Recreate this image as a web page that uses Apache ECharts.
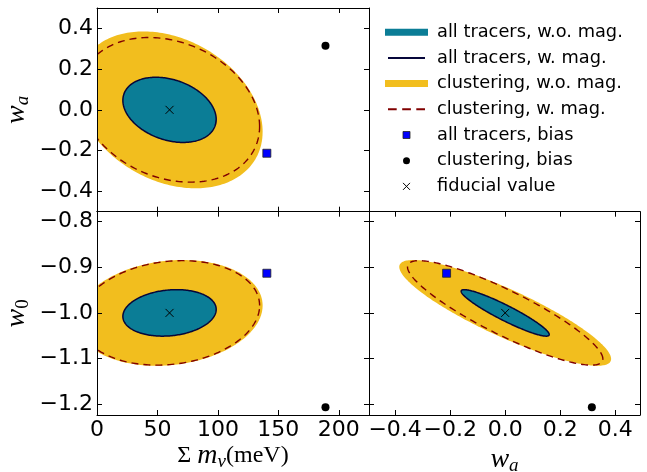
<!DOCTYPE html>
<html><head><meta charset="utf-8">
<script src="https://cdn.jsdelivr.net/npm/echarts@6/dist/echarts.min.js"></script>
<style>html,body{margin:0;padding:0;background:#fff}#c{width:647px;height:472px}</style>
</head><body><div id="c"></div>
<script>
// ---------------- data ----------------
// parameter order: [Σmν (meV), w0, wa]
const fiducialValues = [60, -1.0, 0.0];
const allTracersBias = [140.5, -0.913, -0.213];
const clusteringBias = [189, -1.207, 0.315];
// contour half-widths along each parameter: [Σmν, w0, wa]
const allWoWidth = [38.6, 0.051, 0.160];
const allWWidth  = [38.6, 0.051, 0.160];
const clusWoWidth = [77.0, 0.116, 0.385];
const clusWWidth  = [74.5, 0.1146, 0.355];
// correlation coefficients: [Σmν–w0, Σmν–wa, wa–w0]
const allWoCorr  = [0.15, -0.29, -0.93];
const allWCorr   = [0.15, -0.29, -0.93];
const clusWoCorr = [0.14, -0.28, -0.87];
const clusWCorr  = [0.14, -0.23, -0.88];
// axis ticks
const massTicks = [0, 50, 100, 150, 200];
const waTicks = [-0.4, -0.2, 0.0, 0.2, 0.4];
const w0Ticks = [-1.2, -1.1, -1.0, -0.9, -0.8];
const massRange = [0, 225];
const waRange = [-0.5, 0.5];
const waRangeX = [-0.495, 0.49];
const w0Range = [-1.224, -0.778];
const legendNames = ['all tracers, w.o. mag.', 'all tracers, w. mag.', 'clustering, w.o. mag.',
  'clustering, w. mag.', 'all tracers, bias', 'clustering, bias', 'fiducial value'];

// ---------------- styling ----------------
const TEAL = '#0b7d96', NAVY = '#06063a', YELLOW = '#f2be1e', DARKRED = '#800000';
const TICKFONT = 'DejaVu Sans';
const SERIF = 'Liberation Serif';
const CROSS = 'path://M0,0L10,10M10,0L0,10';

// panels: x param index, y param index, correlation index
const panels = [
  { x: 0, y: 2, c: 1 },  // top-left: Σmν vs wa
  { x: 0, y: 1, c: 0 },  // bottom-left: Σmν vs w0
  { x: 2, y: 1, c: 2 }   // bottom-right: wa vs w0
];

const fmt1 = v => v.toFixed(1).replace('-', '\u2212');
const fmt0 = v => String(Math.round(v));

function mkAxis(opt) {
  return {
    type: 'value', gridIndex: opt.grid, position: opt.pos, min: opt.range[0], max: opt.range[1],
    z: 10,
    axisLine: { show: true, onZero: false, lineStyle: { color: '#000', width: 1 } },
    axisTick: { show: true, inside: true, length: 5, customValues: opt.ticks, lineStyle: { color: '#000', width: 1 } },
    axisLabel: { show: !!opt.labels, customValues: opt.ticks, formatter: opt.fmt, fontFamily: TICKFONT,
      fontSize: 22, color: '#000', margin: opt.margin || 4, hideOverlap: false },
    splitLine: { show: false },
    name: opt.name || '', nameLocation: 'middle', nameGap: opt.nameGap || 0,
    nameTextStyle: opt.nameStyle || {}
  };
}

const richBase = {
  i: { fontFamily: SERIF, fontStyle: 'italic', fontSize: 28, color: '#000', lineHeight: 26, padding: [0, 0, 5, 0] },
  r: { fontFamily: SERIF, fontSize: 24, color: '#000', lineHeight: 26, padding: [0, 0, 5, 0] },
  s: { fontFamily: SERIF, fontStyle: 'italic', fontSize: 19, color: '#000', lineHeight: 18, verticalAlign: 'bottom' },
  su: { fontFamily: SERIF, fontSize: 19, color: '#000', lineHeight: 18, verticalAlign: 'bottom' }
};

const xAxes = [
  mkAxis({ grid: 0, pos: 'bottom', range: massRange, ticks: massTicks, fmt: fmt0 }),
  mkAxis({ grid: 0, pos: 'top', range: massRange, ticks: massTicks, fmt: fmt0 }),
  mkAxis({ grid: 1, pos: 'bottom', range: massRange, ticks: massTicks, fmt: fmt0, labels: true, margin: 4,
    name: '{r|\u03a3 }{i|m}{s|\u03bd}{r|(meV)}', nameGap: 28, nameStyle: { rich: richBase } }),
  mkAxis({ grid: 1, pos: 'top', range: massRange, ticks: massTicks, fmt: fmt0 }),
  mkAxis({ grid: 2, pos: 'bottom', range: waRangeX, ticks: waTicks, fmt: fmt1, labels: true, margin: 4,
    name: '{i|w}{s|a}', nameGap: 34, nameStyle: { rich: richBase } }),
  mkAxis({ grid: 2, pos: 'top', range: waRangeX, ticks: waTicks, fmt: fmt1 })
];
const yAxes = [
  mkAxis({ grid: 0, pos: 'left', range: waRange, ticks: waTicks, fmt: fmt1, labels: true, margin: 4,
    name: '{i|w}{s|a}', nameGap: 63, nameStyle: { rich: richBase } }),
  mkAxis({ grid: 0, pos: 'right', range: waRange, ticks: waTicks, fmt: fmt1 }),
  mkAxis({ grid: 1, pos: 'left', range: w0Range, ticks: w0Ticks, fmt: fmt1, labels: true, margin: 4,
    name: '{i|w}{su|0}', nameGap: 63, nameStyle: { rich: richBase } }),
  mkAxis({ grid: 1, pos: 'right', range: w0Range, ticks: w0Ticks, fmt: fmt1 }),
  mkAxis({ grid: 2, pos: 'left', range: w0Range, ticks: w0Ticks, fmt: fmt1 }),
  mkAxis({ grid: 2, pos: 'right', range: w0Range, ticks: w0Ticks, fmt: fmt1 })
];

function ellipseSeries(name, width, corr, p, style, z) {
  const pn = panels[p];
  return {
    type: 'custom', name: name, xAxisIndex: 2 * p, yAxisIndex: 2 * p, clip: true, z: z, silent: true,
    itemStyle: { color: style.fill !== 'none' ? style.fill : style.stroke },
    data: [[fiducialValues[pn.x], fiducialValues[pn.y], width[pn.x], width[pn.y], corr[pn.c]]],
    renderItem: function (params, api) {
      const cx = api.value(0), cy = api.value(1), sx = api.value(2), sy = api.value(3), r = api.value(4);
      const q = Math.sqrt(1 - r * r);
      const pts = [];
      const N = 240;
      for (let i = 0; i < N; i++) {
        const t = 2 * Math.PI * i / N;
        pts.push(api.coord([cx + sx * Math.cos(t), cy + sy * (r * Math.cos(t) + q * Math.sin(t))]));
      }
      return { type: 'polygon', shape: { points: pts }, style: style };
    }
  };
}

function scatterSeries(name, values, p, sym, size, itemStyle) {
  const pn = panels[p];
  return {
    type: 'scatter', name: name, xAxisIndex: 2 * p, yAxisIndex: 2 * p, z: 6, silent: true,
    symbol: sym, symbolSize: size, itemStyle: itemStyle,
    data: [[values[pn.x], values[pn.y]]]
  };
}

const series = [];
for (let p = 0; p < 3; p++) {
  series.push(ellipseSeries(legendNames[2], clusWoWidth, clusWoCorr, p, { fill: YELLOW, stroke: 'none' }, 1));
  series.push(ellipseSeries(legendNames[3], clusWWidth, clusWCorr, p, { fill: 'none', stroke: DARKRED, lineWidth: 1.4, lineDash: [7, 5] }, 2));
  series.push(ellipseSeries(legendNames[0], allWoWidth, allWoCorr, p, { fill: TEAL, stroke: 'none' }, 3));
  series.push(ellipseSeries(legendNames[1], allWWidth, allWCorr, p, { fill: 'none', stroke: NAVY, lineWidth: 1.5 }, 4));
  series.push(scatterSeries(legendNames[4], allTracersBias, p, 'rect', 8, { color: '#0000ff', borderColor: '#222', borderWidth: 0.8, opacity: 1 }));
  series.push(scatterSeries(legendNames[5], clusteringBias, p, 'circle', 8, { color: '#000', opacity: 1 }));
  series.push(scatterSeries(legendNames[6], fiducialValues, p, CROSS, 8, { color: 'none', borderColor: '#000', borderWidth: 1, opacity: 1 }));
}

const option = {
  backgroundColor: '#fff',
  animation: false,
  grid: [
    { left: 97, top: 8, width: 272, height: 203.7, outerBoundsMode: 'none', containLabel: false },
    { left: 97, top: 211.7, width: 272, height: 203.3, outerBoundsMode: 'none', containLabel: false },
    { left: 369, top: 211.7, width: 271, height: 203.3, outerBoundsMode: 'none', containLabel: false }
  ],
  xAxis: xAxes,
  yAxis: yAxes,
  legend: {
    orient: 'vertical', left: 385, top: 22.2, padding: 0, itemGap: 5.7, itemWidth: 43, itemHeight: 7,
    selectedMode: false, symbolKeepAspect: true,
    textStyle: { fontFamily: TICKFONT, fontSize: 17.8, color: '#000', lineHeight: 20, padding: [0, 0, 0, 4] },
    data: [
      { name: legendNames[0], icon: 'rect', itemStyle: { color: TEAL, borderWidth: 0 } },
      { name: legendNames[1], icon: 'path://M-3,0h0.01v0.01h-0.01zM0,0h37v2h-37zM40,0h0.01v0.01h-0.01z', itemStyle: { color: NAVY, borderWidth: 0 } },
      { name: legendNames[2], icon: 'rect', itemStyle: { color: YELLOW, borderWidth: 0 } },
      { name: legendNames[3], icon: 'path://M-3,0h0.01v0.01h-0.01zM0,0h8.7v2h-8.7zM14.2,0h8.7v2h-8.7zM28.3,0h8.7v2h-8.7zM40,0h0.01v0.01h-0.01z', itemStyle: { color: DARKRED, borderWidth: 0 } },
      { name: legendNames[4], icon: 'path://M0,0h10v10h-10z', itemStyle: { color: '#0000ff', borderColor: '#222', borderWidth: 0.8 } },
      { name: legendNames[5], icon: 'circle', itemStyle: { color: '#000', borderWidth: 0 } },
      { name: legendNames[6], icon: CROSS, itemStyle: { color: 'none', borderColor: '#000', borderWidth: 1 } }
    ]
  },
  series: series
};

const chart = echarts.init(document.getElementById('c'), null, { renderer: 'canvas' });
chart.setOption(option);
</script>
</body></html>
